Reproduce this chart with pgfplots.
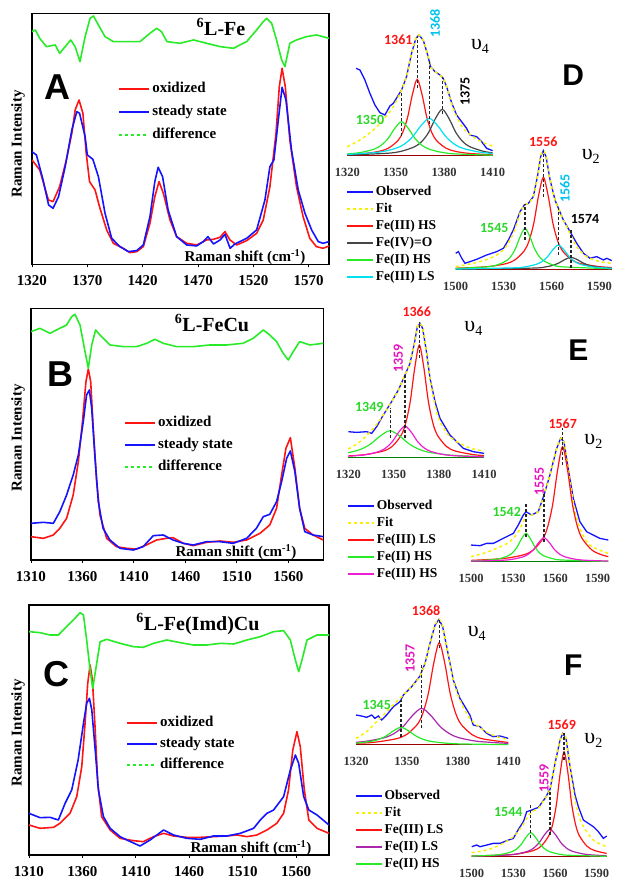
\documentclass[border=0pt]{standalone}
\usepackage{fontspec}
\setmainfont{Liberation Serif}
\newfontfamily\lsans{Liberation Sans}
\newfontfamily\carl{Carlito}
\usepackage{pgfplots}
\pgfplotsset{compat=1.18}
\definecolor{cR}{RGB}{255,20,20}
\definecolor{cB}{RGB}{20,20,255}
\definecolor{cG}{RGB}{40,235,40}
\definecolor{cY}{RGB}{250,240,0}
\definecolor{cC}{RGB}{0,225,240}
\definecolor{cK}{RGB}{70,70,70}
\definecolor{cM}{RGB}{240,30,210}
\definecolor{cP}{RGB}{170,40,170}
\definecolor{lG}{RGB}{40,215,40}
\definecolor{lC}{RGB}{0,195,235}
\definecolor{lM}{RGB}{230,20,190}
\newcommand{\fs}[1]{\fontsize{#1}{#1}\selectfont}
\pgfplotsset{
  lp/.style={scale only axis, anchor=south west, ymin=0, ytick=\empty, xtick pos=left, tick align=outside,
    major tick length=3pt, axis line style={line width=1.2pt}, tick style={black, line width=0.9pt},
    /pgf/number format/assume math mode=true, /pgf/number format/1000 sep={},
    xticklabel style={font=\fs{15}\bfseries, yshift=-5pt},
    legend cell align=left,
    legend image code/.code={\draw[##1] (0pt,0pt) -- (30pt,0pt);},
    legend style={draw=none, fill=none, font=\fs{15}\bfseries, inner sep=0pt,
      nodes={inner sep=2pt, text height=11pt, text depth=4pt}, row sep=4pt, anchor=north west}},
  rp/.style={scale only axis, anchor=south west, ymin=0, clip=false, axis y line=none, axis x line*=bottom,
    x axis line style={-}, axis line style={line width=1pt, draw=black!75}, xtick style={draw=none},
    /pgf/number format/assume math mode=true, /pgf/number format/1000 sep={},
    xticklabel style={font=\fs{12.5}\bfseries, yshift=-9pt, text=black!80},
    legend cell align=left,
    legend image code/.code={\draw[##1, line width=2pt] (0pt,0pt) -- (26pt,0pt);},
    legend style={draw=none, fill=none, font=\fs{13.5}\bfseries, inner sep=0pt,
      nodes={inner sep=2pt, text height=10pt, text depth=3pt}, row sep=0pt, anchor=north west}},
  obs/.style={cB, line width=1.3pt},
  fit/.style={cY, dashed, line width=1.5pt, smooth},
  comp/.style={line width=1.2pt, smooth},
  vl/.style={black!85, densely dashed, line width=1.3pt, forget plot},
  sp/.style={line width=1.6pt, line join=round, forget plot},
  lgR/.style={draw=cR, line width=2pt, solid},
  lgB/.style={draw=cB, line width=2pt, solid},
  lgG/.style={draw=cG, line width=2pt, dashed},
}
\begin{document}
\begin{tikzpicture}[x=1pt,y=1pt]
\useasboundingbox (0,0) rectangle (624,894);

% ---------------- Panel A ----------------
\begin{axis}[lp, at={(32pt,629.7pt)}, width=297pt, height=251pt, xmin=1320, xmax=1588.4, ymax=753,
  xtick={1320,1370,1420,1470,1520,1570}, legend style={at={(rel axis cs:0.29,0.737)}, row sep=4pt}]
\addplot[sp, cR] coordinates {(1320,313) (1327,283) (1334.8,193) (1339,188) (1345,233) (1351,313) (1356,393) (1359,463) (1362.5,493) (1366,453) (1369,333) (1372,248) (1377,223) (1381,173) (1387.5,103) (1393.5,63) (1402.5,48) (1408.5,35) (1414.6,38) (1420.6,53) (1426.6,123) (1431,203) (1434.8,248) (1438.7,213) (1444.7,133) (1450.7,83) (1459.8,63) (1468.8,58) (1477.8,73) (1483.9,75) (1489.9,81) (1494.4,98) (1498.9,73) (1505,58) (1514,71) (1523,93) (1529,133) (1535,233) (1540.5,393) (1543.5,533) (1546,588) (1548.9,533) (1553,373) (1559,233) (1565,143) (1571,78) (1577,53) (1583,48) (1588.4,55)};
\addplot[sp, cB] coordinates {(1320,338) (1324,328) (1330,253) (1335,178) (1339,168) (1344,203) (1350,293) (1356,403) (1360.5,458) (1363,453) (1368,383) (1370,328) (1375,315) (1380,263) (1386,153) (1392,78) (1399.5,53) (1407,38) (1414.6,41) (1420.6,58) (1426.6,143) (1431,248) (1434,291) (1438,263) (1443,163) (1450.7,83) (1459.8,58) (1468.8,55) (1474.8,68) (1479,83) (1484,61) (1490,73) (1494.4,90) (1499,48) (1503.4,61) (1514,78) (1523,103) (1530.5,193) (1535,293) (1538.6,313) (1542.6,433) (1546,531) (1549.5,493) (1554.5,343) (1560.6,223) (1566.7,153) (1572.7,103) (1578.7,68) (1583,63) (1588.4,68)};
\addplot[sp, cG] coordinates {(1320,698) (1323,703) (1327,678) (1333,653) (1341,658) (1345,633) (1350,653) (1355,673) (1359,653) (1363.4,608) (1368,683) (1372.5,738) (1375.5,745) (1380,718) (1386,683) (1393.5,668) (1405.5,668) (1417.6,668) (1426.6,693) (1432.6,708) (1437,698) (1442,668) (1453.7,663) (1466,673) (1477.8,663) (1490,653) (1502,648) (1514,668) (1523,703) (1529,728) (1532,738) (1536.6,723) (1541,673) (1545.6,613) (1548.6,593) (1553,663) (1559,673) (1568,683) (1577,688) (1588.4,678)};
\addlegendimage{lgR}\addlegendentry{oxidized}
\addlegendimage{lgB}\addlegendentry{steady state}
\addlegendimage{lgG}\addlegendentry{difference}
\end{axis}

% ---------------- Panel B ----------------
\begin{axis}[lp, at={(31pt,334pt)}, width=292.3pt, height=251.7pt, xmin=1310, xmax=1594, ymax=755,
  xtick={1310,1360,1410,1460,1510,1560}, legend style={at={(rel axis cs:0.318,0.582)}, row sep=3pt}]
\addplot[sp, cR] coordinates {(1310,70) (1322,65) (1331.7,75) (1338,95) (1344.6,125) (1351,195) (1356,295) (1360,415) (1363.4,535) (1365.7,573) (1368,535) (1370.5,395) (1373.8,235) (1377,135) (1383.5,65) (1393,40) (1403,35) (1412.6,33) (1422,45) (1432,60) (1441.8,65) (1448,67) (1458,50) (1467.7,43) (1480.6,53) (1493.6,57) (1506.5,53) (1519.5,60) (1532.5,80) (1542,105) (1548.6,155) (1553.5,255) (1557.7,335) (1562,367) (1566.4,275) (1571,155) (1576,95) (1584,75) (1594,60)};
\addplot[sp, cB] coordinates {(1310,110) (1322,113) (1331.7,110) (1338,145) (1344.6,195) (1351,255) (1356,315) (1360.8,415) (1364,495) (1366.7,510) (1369,455) (1372,315) (1375.4,175) (1380,95) (1386.7,60) (1396.5,35) (1409.4,30) (1419,40) (1428.8,73) (1438.5,75) (1448,60) (1458,50) (1467.7,45) (1480.6,55) (1493.6,55) (1506.5,50) (1519.5,65) (1529,95) (1535.7,130) (1542,137) (1548.6,175) (1553.5,235) (1558.4,305) (1562,327) (1566.4,265) (1571,155) (1576,85) (1584,75) (1594,70)};
\addplot[sp, cG] coordinates {(1310,685) (1318.7,695) (1328.5,680) (1338,695) (1344.6,705) (1349.5,730) (1352.7,737) (1357.6,705) (1362.5,625) (1365.7,575) (1369,645) (1372.8,690) (1377,675) (1386.7,645) (1399.7,640) (1412.6,640) (1422.4,650) (1430.4,662) (1438.5,650) (1451.5,640) (1467.7,640) (1484,645) (1500,645) (1516,650) (1526,665) (1535.7,690) (1542,675) (1548.6,655) (1555,620) (1560,600) (1564.8,625) (1571,655) (1581,645) (1594,650)};
\addlegendimage{lgR}\addlegendentry{oxidized}
\addlegendimage{lgB}\addlegendentry{steady state}
\addlegendimage{lgG}\addlegendentry{difference}
\end{axis}

% ---------------- Panel C ----------------
\begin{axis}[lp, at={(29pt,39pt)}, width=300pt, height=250pt, xmin=1310, xmax=1590.9, ymax=750,
  xtick={1310,1360,1410,1460,1510,1560}, legend style={at={(rel axis cs:0.323,0.566)}, row sep=2pt}]
\addplot[sp, cR] coordinates {(1310,90) (1320.3,80) (1333,83) (1339,95) (1348.4,125) (1354.7,175) (1359.4,265) (1362.5,395) (1365,515) (1367.2,570) (1369.4,525) (1372,375) (1374.4,215) (1378,115) (1386,75) (1395.3,50) (1407.8,43) (1417,40) (1426.6,55) (1436,65) (1445.3,57) (1457.8,53) (1470.3,53) (1482.8,55) (1495.3,57) (1504.7,60) (1514,55) (1523.4,60) (1532.8,75) (1542,95) (1548.4,125) (1553,195) (1557,315) (1560.9,370) (1564,325) (1567.8,195) (1572,105) (1579.7,80) (1590.9,65)};
\addplot[sp, cB] coordinates {(1310,125) (1320.3,112) (1329.7,113) (1337.5,105) (1343.8,155) (1350,195) (1356,285) (1361,395) (1364,455) (1366.6,470) (1368.8,435) (1372,315) (1375,195) (1379.7,115) (1386,80) (1395.3,55) (1401.6,45) (1414,27) (1423.4,45) (1436,75) (1445.3,60) (1457.8,50) (1470.3,47) (1482.8,57) (1495.3,57) (1507.8,65) (1520.3,80) (1526.6,105) (1532.8,125) (1539,135) (1548.4,175) (1554.7,255) (1559.4,300) (1562.5,275) (1567.2,175) (1572,135) (1579.7,120) (1590.9,90)};
\addplot[sp, cG] coordinates {(1310,670) (1320.3,667) (1329.7,660) (1337.5,660) (1345.3,685) (1353,710) (1357.8,727) (1361,720) (1364,645) (1367.2,555) (1369.7,500) (1373.4,575) (1376.6,640) (1382.8,647) (1395.3,635) (1407.8,625) (1417,623) (1426.6,635) (1439,645) (1451.6,637) (1464,630) (1476.6,630) (1489,635) (1501.6,633) (1514,645) (1526.6,655) (1539,670) (1548.4,673) (1554.7,645) (1559.4,585) (1562.5,550) (1565.6,585) (1570.3,645) (1579.7,660) (1590.9,660)};
\addlegendimage{lgR}\addlegendentry{oxidized}
\addlegendimage{lgB}\addlegendentry{steady state}
\addlegendimage{lgG}\addlegendentry{difference}
\end{axis}

% ---------------- Panel D nu4 ----------------
\begin{axis}[rp, at={(347.3pt,738pt)}, width=145.3pt, height=140pt, xmin=1320, xmax=1410, ymax=420,
  xtick={1320,1350,1380,1410}, x axis line style={draw=red!60!black}, legend style={at={(axis cs:1319,-82)}}]
\addplot[obs] coordinates {(1325.4,263) (1327.8,258) (1330.9,228) (1334,188) (1337.1,153) (1340.2,130) (1343.3,123) (1346.4,150) (1348.5,158) (1353.6,198) (1356.7,238) (1359.8,308) (1362.5,353) (1364.4,363) (1367,348) (1369.5,308) (1371.6,268) (1374.3,253) (1377.4,243) (1379.4,233) (1381.5,208) (1384.6,160) (1387.7,123) (1390.8,103) (1393.9,83) (1396,63) (1400.1,58) (1403.2,43) (1406.3,23) (1410,16)};
\addlegendentry{Observed}
\addplot[fit] coordinates {(1320,28) (1327.8,48) (1336.1,78) (1342.3,108) (1348.5,148) (1353.6,198) (1356.7,238) (1359.8,308) (1362.5,353) (1364.4,363) (1367,348) (1369.5,308) (1371.6,268) (1374.3,253) (1377.4,243) (1379.4,233) (1381.5,208) (1384.6,158) (1387.7,118) (1391.8,83) (1398,58) (1404.2,40) (1410,30)};
\addlegendentry{Fit}
\addplot[comp, cR] coordinates {(1320,4.3) (1330.3,7.4) (1339.3,13.5) (1345.3,23) (1351.3,46) (1354.3,70.8) (1357.3,115) (1360.3,184) (1363.3,230) (1366.3,184) (1369.3,115) (1372.3,70.8) (1375.3,46) (1381.3,23) (1387.3,13.5) (1396.3,7.4) (1410,3.7)};
\addlegendentry{Fe(III) HS}
\addplot[comp, cK] coordinates {(1320,2.9) (1344.8,8.2) (1353.3,14) (1361.8,28) (1366.05,43.1) (1370.3,70) (1374.55,112) (1378.8,140) (1383.05,112) (1387.3,70) (1391.55,43.1) (1395.8,28) (1404.3,14) (1410,9.7)};
\addlegendentry{Fe(IV)=O}
\addplot[comp, cG] coordinates {(1320,6.2) (1328.1,10.3) (1336.6,20.6) (1340.85,31.7) (1345.1,51.5) (1349.35,82.4) (1353.6,103) (1357.85,82.4) (1362.1,51.5) (1366.35,31.7) (1370.6,20.6) (1379.1,10.3) (1387.6,6.1) (1410,2.3)};
\addlegendentry{Fe(II) HS}
\addplot[comp, cC] coordinates {(1320,4.6) (1339.3,11.3) (1349.8,22.6) (1355.05,34.8) (1360.3,56.5) (1365.55,90.4) (1370.8,113) (1376.05,90.4) (1381.3,56.5) (1386.55,34.8) (1391.8,22.6) (1402.3,11.3) (1410,7.6)};
\addlegendentry{Fe(III) LS}
\addplot[vl] coordinates {(1353.6,60) (1353.6,195)};
\addplot[vl] coordinates {(1363.3,205) (1363.3,360)};
\addplot[vl] coordinates {(1370.8,95) (1370.8,290)};
\addplot[vl] coordinates {(1378.8,125) (1378.8,238)};
\end{axis}

% ---------------- Panel D nu2 ----------------
\begin{axis}[rp, at={(455.7pt,624.7pt)}, width=156pt, height=140pt, xmin=1500, xmax=1597.7, ymax=420,
  xtick={1500,1530,1560,1590}, x axis line style={draw=red!60!black}]
\addplot[obs] coordinates {(1500,48) (1501.7,53) (1503.8,33) (1505.8,18) (1509,23) (1513.2,30) (1519.4,43) (1525.7,53) (1529.9,63) (1533,88) (1536.1,118) (1540.3,173) (1543,193) (1545.5,198) (1548.6,218) (1551.2,278) (1553.2,338) (1554.9,356) (1556.6,338) (1559.1,268) (1562.2,208) (1564.3,183) (1567.4,148) (1571.6,113) (1575.8,78) (1580,48) (1584.1,33) (1588.3,38) (1592.5,28) (1594.6,33) (1597.7,26)};
\addplot[fit] coordinates {(1500,8) (1511,18) (1521.5,33) (1529.9,58) (1536.1,108) (1540.3,168) (1543,193) (1545.5,198) (1548.6,218) (1551.2,278) (1553.2,338) (1554.9,356) (1556.6,338) (1559.1,268) (1562.2,208) (1564.3,183) (1567.4,148) (1571.6,108) (1575.8,68) (1582,38) (1590.4,23) (1597.7,18)};
\addplot[comp, cR] coordinates {(1500,3.3) (1518.9,7.5) (1530.9,16.2) (1536.9,27.6) (1542.9,55.2) (1545.9,84.9) (1548.9,138) (1551.9,220.8) (1554.9,276) (1557.9,220.8) (1560.9,138) (1563.9,84.9) (1566.9,55.2) (1572.9,27.6) (1578.9,16.2) (1590.9,7.5) (1597.7,5.3)};
\addplot[comp, cK] coordinates {(1500,0.5) (1548.2,3.6) (1556.2,7.2) (1560.2,11.1) (1564.2,18) (1568.2,28.8) (1572.2,36) (1576.2,28.8) (1580.2,18) (1584.2,11.1) (1588.2,7.2) (1597.7,3.2)};
\addplot[comp, cG] coordinates {(1500,2.3) (1519.4,7.2) (1525.4,12.3) (1531.4,24.6) (1534.4,37.8) (1537.4,61.5) (1540.4,98.4) (1543.4,123) (1546.4,98.4) (1549.4,61.5) (1552.4,37.8) (1555.4,24.6) (1561.4,12.3) (1567.4,7.2) (1597.7,1.5)};
\addplot[comp, cC] coordinates {(1500,0.85) (1536.3,4.3) (1543.3,7.3) (1550.3,14.6) (1553.8,22.5) (1557.3,36.5) (1560.8,58.4) (1564.3,73) (1567.8,58.4) (1571.3,36.5) (1574.8,22.5) (1578.3,14.6) (1585.3,7.3) (1592.3,4.3) (1597.7,3.1)};
\addplot[vl] coordinates {(1543.4,88) (1543.4,195)};
\addplot[vl] coordinates {(1554.9,218) (1554.9,355)};
\addplot[vl] coordinates {(1564.3,43) (1564.3,185)};
\addplot[vl] coordinates {(1572.2,5) (1572.2,120)};
\end{axis}

% ---------------- Panel E nu4 ----------------
\begin{axis}[rp, at={(348.3pt,436.3pt)}, width=135.7pt, height=153.3pt, xmin=1320, xmax=1410, ymax=460,
  xtick={1320,1350,1380,1410}, x axis line style={draw=green!50!black}, legend style={at={(axis cs:1319,-119)}}]
\addplot[obs] coordinates {(1320,78) (1325.5,76) (1332.2,78) (1335.5,73) (1338.8,93) (1343.2,128) (1348.7,168) (1353.2,203) (1357.6,248) (1360.9,283) (1363.6,338) (1365.8,393) (1367.6,403) (1369.3,388) (1371.5,328) (1374.2,238) (1377.5,168) (1380.8,118) (1387.4,68) (1396.3,28) (1402.9,18) (1410,13)};
\addlegendentry{Observed}
\addplot[fit] coordinates {(1320,26) (1327.7,48) (1336.6,88) (1343.2,128) (1348.7,168) (1353.2,203) (1357.6,248) (1360.9,283) (1363.6,338) (1365.8,393) (1367.6,403) (1369.3,388) (1371.5,328) (1374.2,238) (1377.5,158) (1380.8,108) (1387.4,63) (1396.3,38) (1402.9,26) (1410,20)};
\addlegendentry{Fit}
\addplot[comp, cR] coordinates {(1320,5.4) (1331.1,9.1) (1343.1,19.9) (1349.1,33.8) (1355.1,67.6) (1358.1,104) (1361.1,169) (1364.1,270.4) (1367.1,338) (1370.1,270.4) (1373.1,169) (1376.1,104) (1379.1,67.6) (1385.1,33.8) (1391.1,19.9) (1403.1,9.1) (1410,6.5)};
\addlegendentry{Fe(III) LS}
\addplot[comp, cG] coordinates {(1320,14.7) (1328.1,24.9) (1334.6,40.5) (1341.1,64.8) (1347.6,81) (1354.1,64.8) (1360.6,40.5) (1367.1,24.9) (1373.6,16.2) (1386.6,8.1) (1399.6,4.8) (1410,3.4)};
\addlegendentry{Fe(II) HS}
\addplot[comp, cM] coordinates {(1320,4.6) (1323.6,5.6) (1332.1,9.5) (1340.6,19) (1344.85,29.2) (1349.1,47.5) (1353.35,76) (1357.6,95) (1361.85,76) (1366.1,47.5) (1370.35,29.2) (1374.6,19) (1383.1,9.5) (1391.6,5.6) (1410,2.4)};
\addlegendentry{Fe(III) HS}
\addplot[vl] coordinates {(1348,58) (1348,150)};
\addplot[vl] coordinates {(1357.6,58) (1357.6,248)};
\addplot[vl] coordinates {(1367.1,300) (1367.1,408)};
\end{axis}

% ---------------- Panel E nu2 ----------------
\begin{axis}[rp, at={(471pt,332.3pt)}, width=137.3pt, height=150pt, xmin=1500, xmax=1597.6, ymax=450,
  xtick={1500,1530,1560,1590}, x axis line style={draw=green!50!black}]
\addplot[obs] coordinates {(1500,50) (1506.4,48) (1511.1,55) (1515.9,55) (1520.6,65) (1525.3,75) (1530.1,85) (1533.6,110) (1537.2,140) (1539.1,150) (1543.1,140) (1547.8,150) (1551.9,200) (1556.1,260) (1560.9,340) (1563.7,370) (1566.1,360) (1569.1,280) (1572.7,190) (1577.4,120) (1582.2,90) (1586.9,80) (1591.6,70) (1597.6,65)};
\addplot[fit] coordinates {(1500,15) (1508.8,25) (1518.2,40) (1527.7,60) (1533.6,90) (1537.2,120) (1539.1,140) (1543.1,140) (1547.8,150) (1551.9,200) (1556.1,260) (1560.9,340) (1563.7,370) (1566.1,360) (1569.1,280) (1572.7,180) (1577.4,100) (1584.5,50) (1597.6,25)};
\addplot[comp, cR] coordinates {(1500,3.9) (1523.1,9.5) (1537.1,20.3) (1544.1,34.5) (1551.1,69) (1554.6,106.2) (1558.1,172.5) (1561.6,276) (1565.1,345) (1568.6,276) (1572.1,172.5) (1575.6,106.2) (1579.1,69) (1586.1,34.5) (1593.1,20.3) (1597.6,15.3)};
\addplot[comp, cG] coordinates {(1500,2.3) (1513.1,5) (1519.6,8.5) (1526.1,17) (1529.35,26.2) (1532.6,42.5) (1535.85,68) (1539.1,85) (1542.35,68) (1545.6,42.5) (1548.85,26.2) (1552.1,17) (1558.6,8.5) (1565.1,5) (1597.6,1)};
\addplot[comp, cM] coordinates {(1500,1.5) (1521.9,4.2) (1529.4,7.2) (1536.9,14.4) (1540.65,22.2) (1544.4,36) (1548.15,57.6) (1551.9,72) (1555.65,57.6) (1559.4,36) (1563.15,22.2) (1566.9,14.4) (1574.4,7.2) (1581.9,4.2) (1597.6,1.9)};
\addplot[vl] coordinates {(1539.1,75) (1539.1,180)};
\addplot[vl] coordinates {(1551.9,60) (1551.9,205)};
\addplot[vl] coordinates {(1565.1,290) (1565.1,400)};
\end{axis}

% ---------------- Panel F nu4 ----------------
\begin{axis}[rp, at={(356pt,149pt)}, width=152.3pt, height=143.3pt, xmin=1320, xmax=1410, ymax=430,
  xtick={1320,1350,1380,1410}, x axis line style={draw=red!60!black}, legend style={at={(axis cs:1319,-127)}}]
\addplot[obs] coordinates {(1320,90) (1323.3,87) (1326.3,83) (1329.3,90) (1331.2,80) (1333.2,87) (1335.2,75) (1338.1,90) (1342.1,115) (1346,130) (1348,150) (1352.9,175) (1357.8,207) (1360.8,245) (1363.7,305) (1366.7,360) (1369,377) (1371.2,355) (1373.6,295) (1377.5,195) (1381.4,140) (1387.3,90) (1389.3,60) (1393.2,55) (1397.2,35) (1401.1,25) (1405.1,27) (1410,20)};
\addlegendentry{Observed}
\addplot[fit] coordinates {(1320,20) (1326.3,40) (1332.2,70) (1338.1,100) (1344,130) (1348,150) (1352.9,175) (1357.8,207) (1360.8,245) (1363.7,305) (1366.7,360) (1369,377) (1371.2,355) (1373.6,295) (1377.5,195) (1381.4,135) (1387.3,80) (1395.2,45) (1403.1,25) (1410,17)};
\addlegendentry{Fit}
\addplot[comp, cR] coordinates {(1320,5.3) (1330.2,7.8) (1343.2,18.1) (1349.7,30.7) (1356.2,61.4) (1359.45,94.5) (1362.7,153.5) (1365.95,245.6) (1369.2,307) (1372.45,245.6) (1375.7,153.5) (1378.95,94.5) (1382.2,61.4) (1388.7,30.7) (1395.2,18.1) (1410,7.6)};
\addlegendentry{Fe(III) LS}
\addplot[comp, cP] coordinates {(1320,8.2) (1325.8,11) (1336.8,22) (1342.3,33.8) (1347.8,55) (1353.3,88) (1358.8,110) (1364.3,88) (1369.8,55) (1375.3,33.8) (1380.8,22) (1391.8,11) (1410,4.8)};
\addlegendentry{Fe(II) LS}
\addplot[comp, cG] coordinates {(1320,5.4) (1328.6,10.6) (1333.1,16.3) (1337.6,26.5) (1342.1,42.4) (1346.6,53) (1351.1,42.4) (1355.6,26.5) (1360.1,16.3) (1364.6,10.6) (1373.6,5.3) (1382.6,3.1) (1410,1.05)};
\addlegendentry{Fe(II) HS}
\addplot[vl] coordinates {(1346.6,25) (1346.6,135)};
\addplot[vl] coordinates {(1358.8,50) (1358.8,240)};
\addplot[vl] coordinates {(1369.2,290) (1369.2,380)};
\end{axis}

% ---------------- Panel F nu2 ----------------
\begin{axis}[rp, at={(471.7pt,37.3pt)}, width=135pt, height=140pt, xmin=1500, xmax=1597.2, ymax=420,
  xtick={1500,1530,1560,1590}, x axis line style={draw=red!60!black}]
\addplot[obs] coordinates {(1500,30) (1503.6,35) (1506,30) (1510.8,35) (1515.6,40) (1520.4,40) (1525.2,48) (1530,55) (1533.6,82) (1537.2,105) (1539.6,135) (1543.2,140) (1548,148) (1552.8,175) (1556.4,202) (1560,280) (1563.6,350) (1565.5,370) (1567.9,355) (1570.8,270) (1574.4,185) (1576.8,150) (1580.4,110) (1584,100) (1587.6,90) (1591.2,75) (1594.8,55) (1597.2,62)};
\addplot[fit] coordinates {(1500,12) (1510.8,20) (1520.4,35) (1530,60) (1536,90) (1539.6,115) (1543.2,135) (1548,145) (1552.8,175) (1556.4,202) (1560,280) (1563.6,350) (1565.5,370) (1567.9,355) (1570.8,270) (1574.4,170) (1579.2,100) (1587.6,50) (1597.2,30)};
\addplot[comp, cR] coordinates {(1500,2.1) (1522.5,4.8) (1533.5,8.5) (1544.5,18.5) (1550,31.5) (1555.5,63) (1558.25,96.9) (1561,157.5) (1563.75,252) (1566.5,315) (1569.25,252) (1572,157.5) (1574.75,96.9) (1577.5,63) (1583,31.5) (1588.5,18.5) (1597.2,9.8)};
\addplot[comp, cP] coordinates {(1500,1.6) (1524.4,4.8) (1532.4,8.2) (1540.4,16.4) (1544.4,25.2) (1548.4,41) (1552.4,65.6) (1556.4,82) (1560.4,65.6) (1564.4,41) (1568.4,25.2) (1572.4,16.4) (1580.4,8.2) (1588.4,4.8) (1597.2,3)};
\addplot[comp, cG] coordinates {(1500,1.9) (1514.5,4.2) (1521.5,7.2) (1528.5,14.4) (1532,22.2) (1535.5,36) (1539,57.6) (1542.5,72) (1546,57.6) (1549.5,36) (1553,22.2) (1556.5,14.4) (1563.5,7.2) (1570.5,4.2) (1597.2,1.2)};
\addplot[vl] coordinates {(1542.5,55) (1542.5,160)};
\addplot[vl] coordinates {(1556.4,65) (1556.4,200)};
\addplot[vl] coordinates {(1566.5,290) (1566.5,370)};
\end{axis}

% ---------------- texts: left panels ----------------
\node[font=\fs{20}\bfseries] at (221,867) {\textsuperscript{6}L-Fe};
\node[font=\fs{20}\bfseries] at (212,571) {\textsuperscript{6}L-FeCu};
\node[font=\fs{20}\bfseries] at (198,270) {\textsuperscript{6}L-Fe(Imd)Cu};
\node[font=\lsans\bfseries\fs{36}] at (57.5,807) {A};
\node[font=\lsans\bfseries\fs{36}] at (60,520) {B};
\node[font=\lsans\bfseries\fs{36}] at (56,220) {C};
\node[font=\fs{15}\bfseries, rotate=90] at (18,750) {Raman Intensity};
\node[font=\fs{15}\bfseries, rotate=90] at (18,456) {Raman Intensity};
\node[font=\fs{15}\bfseries, rotate=90] at (18,161) {Raman Intensity};
\node[font=\fs{15}\bfseries] at (245,637) {Raman shift (cm\textsuperscript{-1})};
\node[font=\fs{15}\bfseries] at (236,342) {Raman shift (cm\textsuperscript{-1})};
\node[font=\fs{15}\bfseries] at (251,46) {Raman shift (cm\textsuperscript{-1})};

% ---------------- texts: right panels ----------------
\node[font=\lsans\bfseries\fs{30}] at (573.3,819) {D};
\node[font=\lsans\bfseries\fs{30}] at (578.3,544) {E};
\node[font=\lsans\bfseries\fs{30}] at (573.3,229) {F};
\node[font=\fs{22}] at (480,847.3) {υ\raisebox{-4pt}{\fs{14}4}};
\node[font=\fs{22}] at (590.7,737.3) {υ\raisebox{-4pt}{\fs{14}2}};
\node[font=\fs{22}] at (473.3,565.7) {υ\raisebox{-4pt}{\fs{14}4}};
\node[font=\fs{22}] at (593.3,452.3) {υ\raisebox{-4pt}{\fs{14}2}};
\node[font=\fs{22}] at (476.7,260.7) {υ\raisebox{-4pt}{\fs{14}4}};
\node[font=\fs{22}] at (593.3,154) {υ\raisebox{-4pt}{\fs{14}2}};
% D
\node[font=\carl\bfseries\fs{14}, text=cR] at (398.3,854) {1361};
\node[font=\carl\bfseries\fs{14}, text=lC, rotate=90] at (435,870.7) {1368};
\node[font=\carl\bfseries\fs{14}, text=black, rotate=90] at (465,802.3) {1375};
\node[font=\carl\bfseries\fs{14}, text=lG] at (370,774) {1350};
\node[font=\carl\bfseries\fs{14}, text=cR] at (543.3,752.3) {1556};
\node[font=\carl\bfseries\fs{14}, text=lC, rotate=90] at (565,705.7) {1565};
\node[font=\carl\bfseries\fs{14}, text=black] at (585,674.7) {1574};
\node[font=\carl\bfseries\fs{14}, text=lG] at (494.3,666.3) {1545};
% E
\node[font=\carl\bfseries\fs{14}, text=cR] at (416.7,582.3) {1366};
\node[font=\carl\bfseries\fs{14}, text=lM, rotate=90] at (398.3,535.7) {1359};
\node[font=\carl\bfseries\fs{14}, text=lG] at (369.3,486.7) {1349};
\node[font=\carl\bfseries\fs{14}, text=cR] at (562.7,470.7) {1567};
\node[font=\carl\bfseries\fs{14}, text=lM, rotate=90] at (539.3,412.3) {1555};
\node[font=\carl\bfseries\fs{14}, text=lG] at (506.7,382.3) {1542};
% F
\node[font=\carl\bfseries\fs{14}, text=cR] at (426,283.3) {1368};
\node[font=\carl\bfseries\fs{14}, text=lM, rotate=90] at (410,235.7) {1357};
\node[font=\carl\bfseries\fs{14}, text=lG] at (376.7,189) {1345};
\node[font=\carl\bfseries\fs{14}, text=cR] at (561.7,169) {1569};
\node[font=\carl\bfseries\fs{14}, text=lM, rotate=90] at (544,115.7) {1559};
\node[font=\carl\bfseries\fs{14}, text=lG] at (508.3,82.3) {1544};
\end{tikzpicture}
\end{document}
